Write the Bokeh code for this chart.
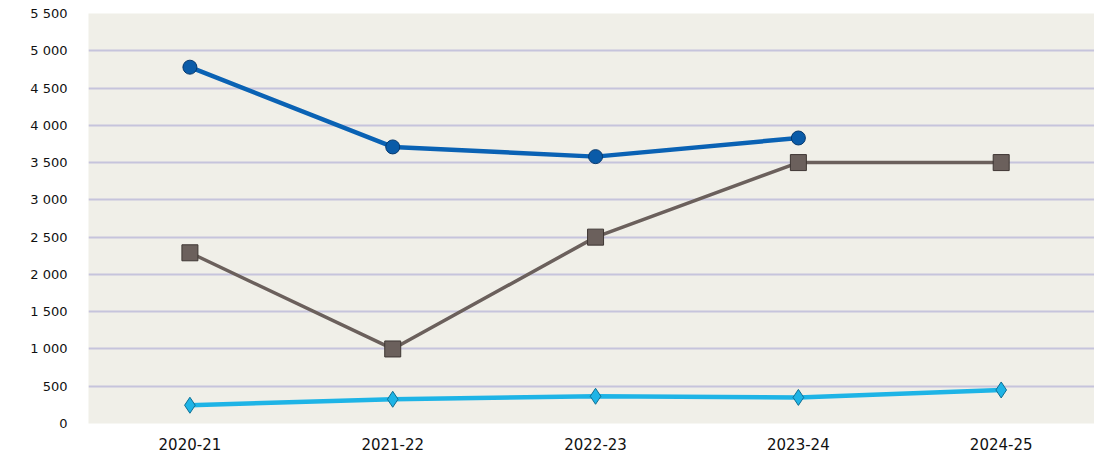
from bokeh.plotting import figure
from bokeh.models import Range1d, FixedTicker
from bokeh.embed import file_html
from bokeh.resources import INLINE

categories = ["2020-21", "2021-22", "2022-23", "2023-24", "2024-25"]
series_dark_blue = [4780, 3710, 3580, 3830]
series_gray = [2290, 1000, 2500, 3500, 3500]
series_light_blue = [245, 325, 365, 350, 450]
y_ticks = [0, 500, 1000, 1500, 2000, 2500, 3000, 3500, 4000, 4500, 5000, 5500]
y_tick_labels = ["0", "500", "1 000", "1 500", "2 000", "2 500", "3 000",
                 "3 500", "4 000", "4 500", "5 000", "5 500"]

x_idx = list(range(len(categories)))

p = figure(width=1094, height=452, output_backend="svg", toolbar_location=None,
           x_range=Range1d(-0.5, 4.46), y_range=Range1d(0, 5500),
           min_border_left=88, min_border_right=0, min_border_top=13, min_border_bottom=28)
p.outline_line_color = None
p.background_fill_color = "#F0EFE8"
p.border_fill_color = "white"

p.xgrid.grid_line_color = None
p.ygrid.grid_line_color = "#C6C4DC"
p.ygrid.grid_line_width = 2

p.yaxis.ticker = FixedTicker(ticks=y_ticks)
p.yaxis.major_label_overrides = {t: l for t, l in zip(y_ticks, y_tick_labels)}
p.xaxis.ticker = FixedTicker(ticks=x_idx)
p.xaxis.major_label_overrides = {i: c for i, c in zip(x_idx, categories)}

for ax in (p.xaxis[0], p.yaxis[0]):
    ax.axis_line_color = None
    ax.major_tick_line_color = None
    ax.minor_tick_line_color = None
    ax.major_label_text_font = "DejaVu Sans"
    ax.major_label_text_color = "#111111"
p.yaxis.major_label_text_font_size = "13px"
p.xaxis.major_label_text_font_size = "15px"
p.yaxis.major_label_standoff = 15
p.xaxis.major_label_standoff = 8

# gray series
p.line(x_idx, series_gray, line_color="#6B605C", line_width=3.5)
p.scatter(x_idx, series_gray, marker="square", size=16,
          fill_color="#6B605C", line_color="#3E3633", line_width=1)

# dark blue series
xb = x_idx[:len(series_dark_blue)]
p.line(xb, series_dark_blue, line_color="#0A62B4", line_width=4.5)
p.scatter(xb, series_dark_blue, marker="circle", size=14,
          fill_color="#0A5BA8", line_color="#06396E", line_width=1)

# light blue series
p.line(x_idx, series_light_blue, line_color="#1EB4E6", line_width=4.5)
p.scatter(x_idx, series_light_blue, marker="diamond", size=16,
          fill_color="#1EB4E6", line_color="#0F6F93", line_width=1)

open("out.html", "w").write(file_html(p, INLINE))
